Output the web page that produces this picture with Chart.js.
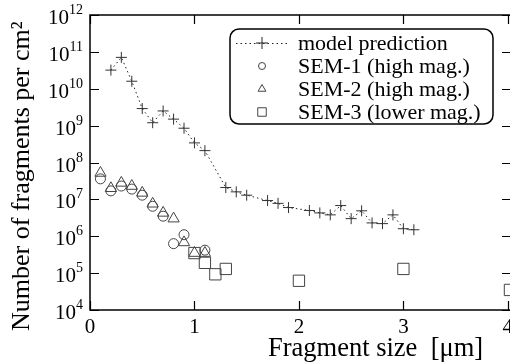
<!DOCTYPE html>
<html>
<head>
<meta charset="utf-8">
<script src="https://cdn.jsdelivr.net/npm/chart.js@4/dist/chart.umd.min.js"></script>
<style>
  html, body { margin: 0; padding: 0; background: #fff; overflow: hidden; }
  #wrap { width: 530px; height: 364px; }
</style>
</head>
<body>
<div id="wrap"><canvas id="fragChart" width="530" height="364"></canvas></div>
<script>
// --- data ---
const modelX = [0.2, 0.3, 0.4, 0.5, 0.6, 0.7, 0.8, 0.9, 1.0, 1.1, 1.3, 1.4, 1.5, 1.7, 1.8, 1.9,
                2.1, 2.2, 2.3, 2.4, 2.5, 2.6, 2.7, 2.8, 2.9, 3.0, 3.1];
const modelY = [3.2e10, 7.1e10, 1.6e10, 2.9e9, 1.2e9, 2.5e9, 1.5e9, 8.5e8, 3.4e8, 2.1e8,
                2.1e7, 1.6e7, 1.3e7, 9.3e6, 7.8e6, 6.0e6, 5.0e6, 4.3e6, 3.8e6, 6.8e6,
                3.0e6, 4.9e6, 2.3e6, 2.2e6, 3.8e6, 1.6e6, 1.5e6];

const sem1X = [0.1, 0.2, 0.3, 0.4, 0.5, 0.6, 0.7, 0.8, 0.9, 1.1];
const sem1Y = [3.6e7, 1.7e7, 2.3e7, 1.9e7, 1.3e7, 6.5e6, 3.5e6, 6.3e5, 1.1e6, 4.2e5];

const sem2X = [0.1, 0.2, 0.3, 0.4, 0.5, 0.6, 0.7, 0.8, 0.9, 1.0, 1.1];
const sem2Y = [5.2e7, 2.0e7, 2.8e7, 2.3e7, 1.5e7, 7.6e6, 4.3e6, 3.0e6, 6.8e5, 3.5e5, 3.5e5];

const sem3X = [1.0, 1.1, 1.2, 1.3, 2.0, 3.0, 4.02];
const sem3Y = [3.5e5, 1.9e5, 9.3e4, 1.3e5, 6.2e4, 1.3e5, 3.5e4];

const xTicks = [0, 1, 2, 3, 4];
const yExponents = [4, 5, 6, 7, 8, 9, 10, 11, 12];

const seriesLabels = ['model prediction', 'SEM-1 (high mag.)', 'SEM-2 (high mag.)', 'SEM-3 (lower mag.)'];

function pts(xs, ys) {
    return xs.map((x, i) => ({ x: x, y: ys[i] }));
}

const SERIF = '"Liberation Serif", "DejaVu Serif", serif';

// frame, inward ticks, tick labels, axis titles and the boxed legend
const decorPlugin = {
    id: 'decor',
    afterDatasetsDraw(chart) {
        const ctx = chart.ctx;
        const a = chart.chartArea;
        const xs = chart.scales.x;
        const ys = chart.scales.y;
        ctx.save();

        // frame
        ctx.strokeStyle = '#000';
        ctx.lineWidth = 1.5;
        ctx.strokeRect(a.left, a.top, a.right - a.left, a.bottom - a.top);

        // ticks (pointing inwards)
        ctx.lineWidth = 1.2;
        ctx.beginPath();
        xTicks.forEach(v => {
            const px = Math.round(xs.getPixelForValue(v)) + 0.5;
            ctx.moveTo(px, a.bottom); ctx.lineTo(px, a.bottom - 9);
            ctx.moveTo(px, a.top); ctx.lineTo(px, a.top + 9);
        });
        yExponents.forEach(e => {
            const py = Math.round(ys.getPixelForValue(Math.pow(10, e))) + 0.5;
            ctx.moveTo(a.left, py); ctx.lineTo(a.left + 9, py);
            ctx.moveTo(a.right, py); ctx.lineTo(a.right - 9, py);
        });
        ctx.stroke();

        // x tick labels
        ctx.fillStyle = '#000';
        ctx.font = '21px ' + SERIF;
        ctx.textAlign = 'center';
        ctx.textBaseline = 'alphabetic';
        xTicks.forEach(v => {
            ctx.fillText(String(v), xs.getPixelForValue(v), a.bottom + 23);
        });

        // y tick labels 10^n
        yExponents.forEach(e => {
            const py = ys.getPixelForValue(Math.pow(10, e));
            const ex = String(e);
            ctx.font = '14px ' + SERIF;
            const we = ctx.measureText(ex).width;
            const right = a.left - 7;
            ctx.textAlign = 'left';
            ctx.fillText(ex, right - we, py - 1);
            ctx.font = '21px ' + SERIF;
            ctx.textAlign = 'right';
            ctx.fillText('10', right - we, py + 9);
        });

        // axis titles
        ctx.font = '26.5px ' + SERIF;
        ctx.textAlign = 'left';
        ctx.fillText('Fragment size  [\u03bcm]', 268, 356);

        ctx.save();
        ctx.font = '26px ' + SERIF;
        ctx.translate(22, 331);
        ctx.rotate(-Math.PI / 2);
        ctx.textBaseline = 'middle';
        ctx.fillText('Number of fragments per cm\u00b2', 0, 0);
        ctx.restore();

        // legend
        const lx = 230, ly = 29, lw = 263, lh = 95, r = 9;
        ctx.beginPath();
        ctx.moveTo(lx + r, ly);
        ctx.arcTo(lx + lw, ly, lx + lw, ly + lh, r);
        ctx.arcTo(lx + lw, ly + lh, lx, ly + lh, r);
        ctx.arcTo(lx, ly + lh, lx, ly, r);
        ctx.arcTo(lx, ly, lx + lw, ly, r);
        ctx.closePath();
        ctx.fillStyle = '#fff';
        ctx.fill();
        ctx.strokeStyle = '#000';
        ctx.lineWidth = 1.5;
        ctx.stroke();

        const rows = [43, 66, 89, 112];
        chart.data.datasets.forEach((ds, i) => {
            const y = rows[i];
            ctx.strokeStyle = ds.borderColor;
            ctx.lineWidth = 1;
            if (ds.showLine) {
                ctx.save();
                ctx.setLineDash(ds.borderDash);
                ctx.beginPath();
                ctx.moveTo(236, y + 0.5);
                ctx.lineTo(290, y + 0.5);
                ctx.stroke();
                ctx.restore();
            }
            ctx.fillStyle = 'rgba(0,0,0,0)';
            Chart.helpers.drawPoint(ctx, {
                pointStyle: ds.pointStyle,
                radius: ds.legendRadius,
                borderWidth: 1,
                rotation: 0
            }, 262, y);
            ctx.fillStyle = '#000';
            ctx.font = '22px ' + SERIF;
            ctx.textAlign = 'left';
            ctx.textBaseline = 'middle';
            ctx.fillText(ds.label, 298, y + 1);
        });

        ctx.restore();
    }
};

new Chart(document.getElementById('fragChart'), {
    type: 'scatter',
    data: {
        datasets: [{
            label: seriesLabels[0],
            data: pts(modelX, modelY),
            showLine: true,
            borderColor: '#222',
            borderWidth: 1,
            borderDash: [1.5, 3],
            pointStyle: 'cross',
            pointRadius: 5.5,
            pointBorderWidth: 1,
            pointBorderColor: '#333',
            pointBackgroundColor: 'transparent',
            legendRadius: 6,
            clip: false
        }, {
            label: seriesLabels[1],
            data: pts(sem1X, sem1Y),
            borderColor: '#444',
            pointStyle: 'circle',
            pointRadius: 5,
            pointBorderWidth: 1,
            pointBorderColor: '#444',
            pointBackgroundColor: 'transparent',
            legendRadius: 3.5,
            clip: false
        }, {
            label: seriesLabels[2],
            data: pts(sem2X, sem2Y),
            borderColor: '#444',
            pointStyle: 'triangle',
            pointRadius: 6.5,
            pointBorderWidth: 1,
            pointBorderColor: '#444',
            pointBackgroundColor: 'transparent',
            legendRadius: 4.5,
            clip: false
        }, {
            label: seriesLabels[3],
            data: pts(sem3X, sem3Y),
            borderColor: '#444',
            pointStyle: 'rect',
            pointRadius: 8,
            pointBorderWidth: 1,
            pointBorderColor: '#444',
            pointBackgroundColor: 'transparent',
            legendRadius: 6,
            clip: false
        }]
    },
    options: {
        responsive: false,
        animation: false,
        events: [],
        layout: { padding: { left: 90, top: 15, right: 19, bottom: 54 } },
        scales: {
            x: { type: 'linear', min: 0, max: 4.03, display: false },
            y: { type: 'logarithmic', min: 1e4, max: 1e12, display: false }
        },
        plugins: {
            legend: { display: false },
            tooltip: { enabled: false }
        }
    },
    plugins: [decorPlugin]
});
</script>
</body>
</html>
